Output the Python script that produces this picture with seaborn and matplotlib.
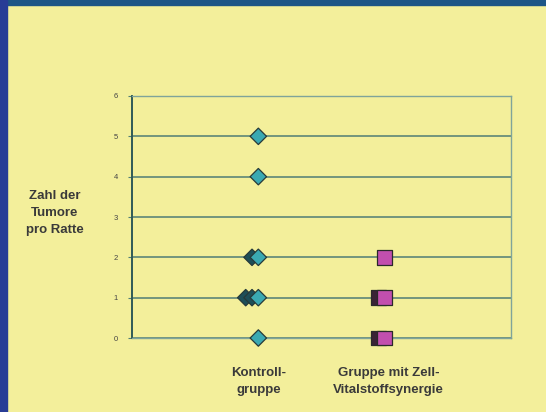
import numpy as np
import pandas as pd
import seaborn as sns
import matplotlib.pyplot as plt
from matplotlib.patches import Rectangle

# Werte
groups = ['Kontroll-\ngruppe', 'Gruppe mit Zell-\nVitalstoffsynergie']
kontroll_values = [5, 4, 2, 2, 1, 1, 1, 0]
zell_values = [2, 1, 1, 0, 0]
y_ticks = [0, 1, 2, 3, 4, 5, 6]
y_label = 'Zahl der\nTumore\npro Ratte'

bg = '#f3ef9b'
grid_col = '#4f7d74'

df = pd.concat([
    pd.DataFrame({'group': 0, 'value': kontroll_values}),
    pd.DataFrame({'group': 1, 'value': zell_values}),
], ignore_index=True)
# doppelte Werte leicht versetzt (wie im Excel-Original)
df['rank'] = df.groupby(['group', 'value']).cumcount()
df['x'] = df['group'] - df['rank'] * 0.05
df['kind'] = np.where(df['group'] == 0, 'k', 'z')
df['shade'] = df['kind'] + np.where(df['rank'] > 0, '_back', '_front')
df = df.sort_values('rank', ascending=False)

sns.set_style('white')
plt.rcParams['font.family'] = ['Liberation Sans', 'DejaVu Sans']

fig = plt.figure(figsize=(5.46, 4.12), dpi=100, facecolor=bg)
ax = fig.add_axes([0.2418, 0.1796, 0.694, 0.5874])
ax.set_facecolor(bg)

palette = {'k_front': '#3aa9b2', 'k_back': '#1d4f58',
           'z_front': '#c24fae', 'z_back': '#3a2336'}
for kind, marker, size in [('k', 'D', 70), ('z', 's', 115)]:
    sub = df[df['kind'] == kind]
    sns.scatterplot(data=sub, x='x', y='value', hue='shade', palette=palette,
                    marker=marker, s=size, edgecolor='#263a3a' if kind == 'k' else '#2a2a2a',
                    linewidth=0.9, legend=False, ax=ax, clip_on=False, zorder=3)

ax.set_xlim(-1, 2)
ax.set_ylim(0, 6)
ax.set_yticks(y_ticks)
ax.set_yticklabels([str(t) for t in y_ticks], fontsize=5.5, color='#444444')
ax.set_xticks([])
for t in y_ticks:
    ax.axhline(t, color=grid_col, lw=1.1, zorder=1)
ax.tick_params(axis='y', length=3, width=0.8, color=grid_col, pad=7, left=True)

for side in ['top', 'right', 'bottom']:
    ax.spines[side].set_color('#7fa49a')
    ax.spines[side].set_linewidth(1.0)
ax.spines['left'].set_color('#2f5a58')
ax.spines['left'].set_linewidth(1.4)

ax.set_xlabel('')
ax.set_ylabel('')
for i, g in enumerate(groups):
    ax.text(i + 0.03 * i, -0.72, g, ha='center', va='top', fontsize=9.5, fontweight='bold',
            color='#3a3a3a', linespacing=1.5)
fig.text(55 / 546, 1 - 213 / 412, y_label, ha='center', va='center', fontsize=9.5,
         fontweight='bold', color='#3a3a3a', linespacing=1.55)

# dunkelblauer Rahmen oben / links
fig.patches.append(Rectangle((0, 1 - 5 / 412), 1, 5 / 412, transform=fig.transFigure,
                             color='#1d5586', zorder=0))
fig.patches.append(Rectangle((0, 0), 7 / 546, 1, transform=fig.transFigure,
                             color='#283c96', zorder=0))

fig.savefig('out.png', dpi=100, facecolor=bg)
